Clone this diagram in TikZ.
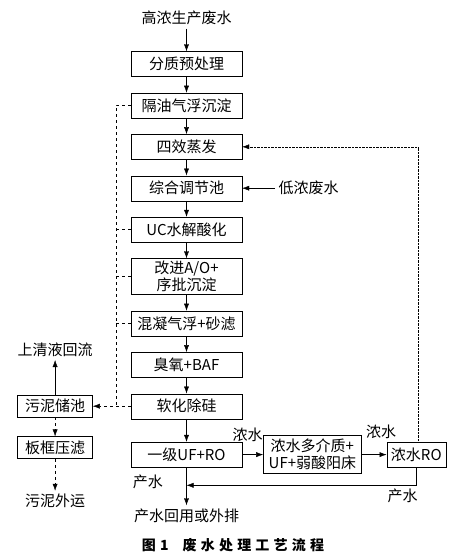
\documentclass[tikz,border=0pt]{standalone}
\usepackage{fontspec}
\setmainfont{Noto Sans CJK SC}
\newfontfamily\capfont[LetterSpace=30]{Noto Sans CJK SC}
\usetikzlibrary{arrows.meta, positioning, calc}

\begin{document}
\begin{tikzpicture}[x=1pt, y=-1pt, font=\fontsize{15}{17}\selectfont, node distance=16pt and 20pt,
    >={Latex[length=7pt, width=5pt]},
    box/.style={draw, minimum width=111pt, minimum height=25pt, inner sep=1pt, align=center},
    sbox/.style={draw, minimum width=75pt, minimum height=22pt, inner sep=1pt}]
    \useasboundingbox (0,0) rectangle (467,560);
    % main line
    \node (src) at (186.5,18) {高浓生产废水};
    \node[box] (pre) at (186.5,64) {分质预处理};
    \node[box, below=of pre] (oil) {隔油气浮沉淀};
    \node[box, below=of oil] (evap) {四效蒸发};
    \node[box, below=of evap] (mix) {综合调节池};
    \node[box, below=of mix] (uc) {UC水解酸化};
    \node[box, below=of uc, minimum height=36pt] (ao) {改进A/O+\\序批沉淀};
    \node[box, below=of ao] (coag) {混凝气浮+砂滤};
    \node[box, below=of coag] (oz) {臭氧+BAF};
    \node[box, below=of oz] (soft) {软化除硅};
    \node[box, below=23pt of soft] (ro1) {一级UF+RO};
    \node[box, minimum width=98pt, minimum height=38pt, right=21pt of ro1] (mmf) {浓水多介质+\\UF+弱酸阳床};
    \node[box, minimum width=59pt, right=25pt of mmf] (ro2) {浓水RO};
    \node[below=38pt of ro1] (out) {产水回用或外排};
    \node[right=33pt of mix] (low) {低浓废水};
    % sludge side
    \node[sbox, left=38pt of soft] (sludge) {污泥储池};
    \node[above=35pt of sludge] (sup) {上清液回流};
    \node[sbox, below=19pt of sludge] (press) {板框压滤};
    \node[below=32pt of press] (haul) {污泥外运};
    \node[font=\capfont\fontsize{14}{16}\selectfont\bfseries] (cap) at (233,545) {图1\quad 废水处理工艺流程};

    \foreach \a/\b in {src/pre, pre/oil, oil/evap, evap/mix, mix/uc, uc/ao, ao/coag, coag/oz, oz/soft, soft/ro1}
        \draw[->] (\a) -- (\b);
    \draw[->] (low) -- (mix);
    \draw[->] (ro1) -- node[pos=0.37, left=20pt] {产水} (out);
    \draw[->] (ro1) -- node[above=9pt, xshift=-5pt] {浓水} (mmf);
    \draw[->] (mmf) -- node[above=12pt, xshift=7pt] {浓水} (ro2);
    \draw[->] (ro2.south) |- node[pos=0.53, below] {产水} ($(ro1.south)+(0,18)$);
    \draw[densely dotted, ->] ($(ro2.north)+(2,0)$) |- (evap.east);

    % sludge lines
    \coordinate (bus) at ($(oil.west)+(-15,0)$);
    \draw[dashed] (oil.west) -- (bus) -- (bus |- soft.west);
    \foreach \n in {uc, ao, coag}
        \draw[dashed] (\n.west) -- (bus |- \n.west);
    \draw[dashed, ->] (soft.west) -- (sludge.east);
    \draw[->] (sludge) -- (sup);
    \draw[dashed, ->] (sludge) -- (press);
    \draw[dashed, ->] (press) -- (haul);
\end{tikzpicture}
\end{document}
